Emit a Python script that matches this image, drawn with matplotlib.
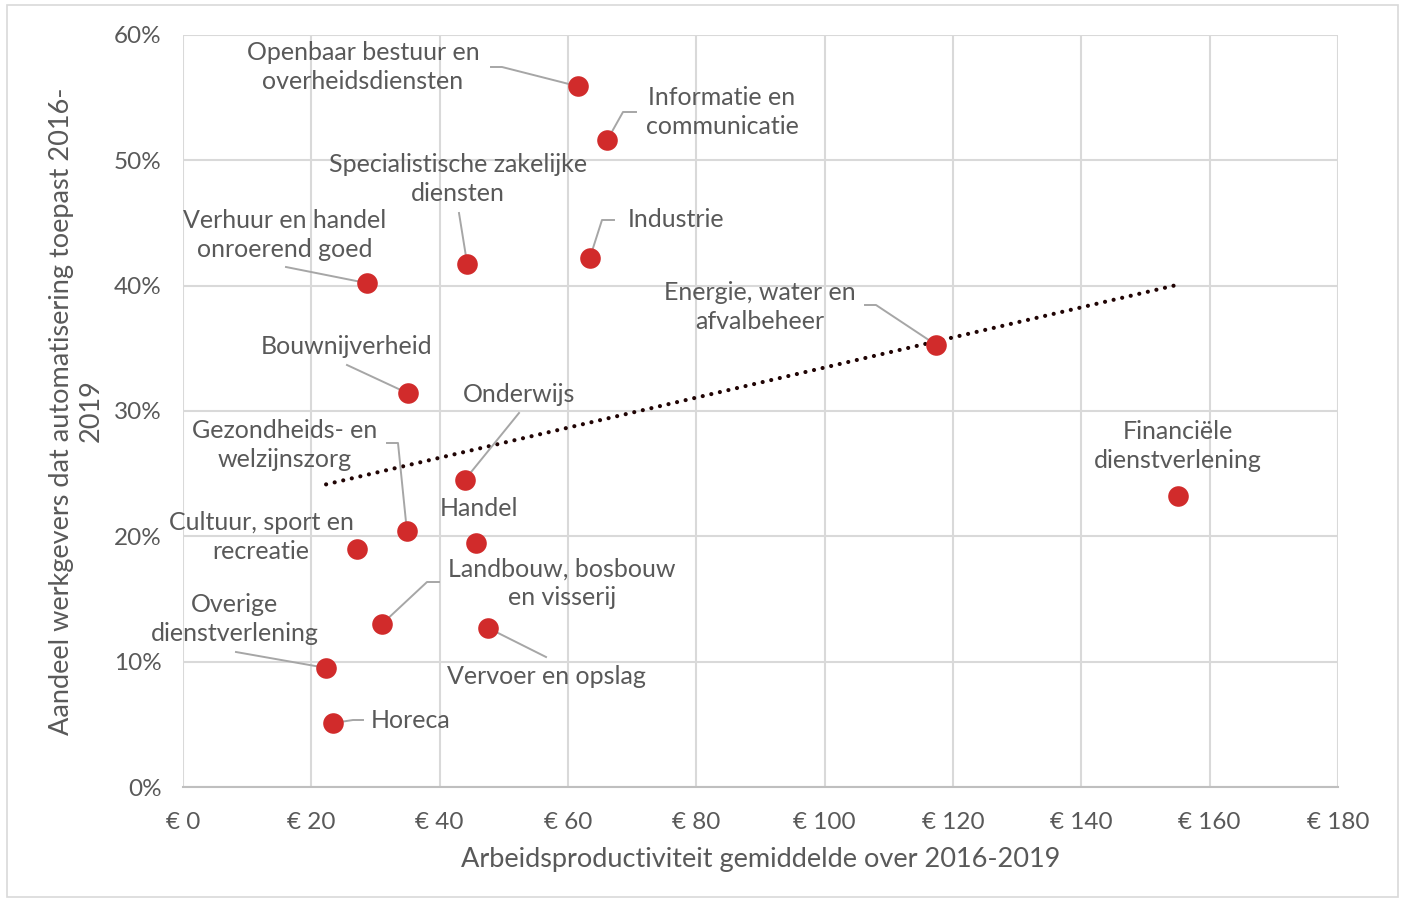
"""
Scatter chart: automatisering vs arbeidsproductiviteit per sector, with a linear trendline.
"""

import numpy as np
import matplotlib
matplotlib.use("Agg")
import matplotlib.pyplot as plt
from matplotlib.ticker import FuncFormatter, MultipleLocator
from matplotlib.patches import Rectangle

# --- data ---
sectors = [
    "Openbaar bestuur en\noverheidsdiensten",
    "Informatie en\ncommunicatie",
    "Industrie",
    "Specialistische zakelijke\ndiensten",
    "Verhuur en handel\nonroerend goed",
    "Energie, water en\nafvalbeheer",
    "Bouwnijverheid",
    "Onderwijs",
    "Financiële\ndienstverlening",
    "Gezondheids- en\nwelzijnszorg",
    "Cultuur, sport en\nrecreatie",
    "Handel",
    "Landbouw, bosbouw\nen visserij",
    "Vervoer en opslag",
    "Overige\ndienstverlening",
    "Horeca",
]
productivity = [61.6, 66.1, 63.4, 44.3, 28.7, 117.3, 35.1, 43.9,
                155.1, 34.9, 27.1, 45.7, 31.0, 47.5, 22.3, 23.4]
automation_pct = [55.9, 51.6, 42.2, 41.7, 40.2, 35.3, 31.4, 24.5,
                  23.2, 20.4, 19.0, 19.5, 13.0, 12.7, 9.5, 5.1]

# --- label placement (pixel coords in the 1402x899 image) ---
# text centre, alignment, leader polyline (label end -> ...), last point goes to the marker
label_px = {
    0: ((363, 67), "center", [(491, 67), (502, 67)]),
    1: ((722, 112), "center", [(636, 112), (623, 112)]),
    2: ((628, 220), "left", [(614, 220), (602, 220)]),
    3: ((458, 179), "center", [(459, 213)]),
    4: ((285, 235), "center", [(286, 267)]),
    5: ((760, 307), "center", [(865, 305), (876, 305)]),
    6: ((347, 346), "center", [(347, 365)]),
    7: ((519, 395), "center", [(519, 413)]),
    8: ((1178, 446), "center", []),
    9: ((285, 445), "center", [(387, 443), (398, 443)]),
    10: ((261, 537), "center", []),
    11: ((479, 508), "center", []),
    12: ((562, 583), "center", [(439, 582), (427, 582)]),
    13: ((546, 677), "center", [(546, 657)]),
    14: ((235, 619), "center", [(236, 652)]),
    15: ((371, 721), "left", [(363, 720), (353, 720)]),
}

TEXT = "#595959"
GRID = "#d9d9d9"
RED = "#d12b2b"

plt.rcParams["font.family"] = ["Lato", "DejaVu Sans"]

W, H = 1402, 899
fig = plt.figure(figsize=(W / 100, H / 100), dpi=100)
L, R, B, T = 183, 1338, 787, 35
ax = fig.add_axes([L / W, (H - B) / H, (R - L) / W, (B - T) / H])

# outer chart border
fig.patches.append(Rectangle((7 / W, 2 / H), (1398 - 7) / W, (897 - 5) / H,
                             transform=fig.transFigure, fill=False,
                             edgecolor=GRID, linewidth=1.2))

ax.set_xlim(0, 180)
ax.set_ylim(0, 60)
ax.xaxis.set_major_locator(MultipleLocator(20))
ax.yaxis.set_major_locator(MultipleLocator(10))
ax.xaxis.set_major_formatter(FuncFormatter(lambda v, _: f"€ {v:.0f}"))
ax.yaxis.set_major_formatter(FuncFormatter(lambda v, _: f"{v:.0f}%"))
ax.grid(True, color=GRID, linewidth=1.5)
ax.set_axisbelow(True)
for s in ("top", "right", "left"):
    ax.spines[s].set_visible(False)
ax.spines["bottom"].set_color("#bfbfbf")
ax.spines["bottom"].set_linewidth(1.5)
ax.tick_params(length=0, labelsize=17.5, labelcolor=TEXT)
ax.tick_params(axis="y", pad=15.5)
ax.tick_params(axis="x", pad=18)

ax.set_xlabel("Arbeidsproductiviteit gemiddelde over 2016-2019",
              fontsize=19.5, color=TEXT, labelpad=10)
ax.set_ylabel("Aandeel werkgevers dat automatisering toepast 2016-\n2019",
              fontsize=19.5, color=TEXT, labelpad=7.5, linespacing=1.2)

x = np.array(productivity)
y = np.array(automation_pct)

# linear trendline across the data range
slope, intercept = np.polyfit(x, y, 1)
xt = np.array([x.min(), x.max()])
ax.plot(xt, slope * xt + intercept, color="#200404", linewidth=3,
        linestyle=(0, (0.01, 2.1)), dash_capstyle="round", zorder=3)

ax.scatter(x, y, s=220, color=RED, zorder=4, linewidths=0)


def px_to_data(px, py):
    return (px - L) / (R - L) * 180, (B - py) / (B - T) * 60


for i, name in enumerate(sectors):
    (tx, ty), ha, leader = label_px[i]
    dx, dy = px_to_data(tx, ty)
    ax.text(dx, dy, name, ha=ha, va="center", fontsize=18, color=TEXT,
            linespacing=1.3, zorder=5)
    if leader:
        pts = [px_to_data(*p) for p in leader] + [(x[i], y[i])]
        lx, ly = zip(*pts)
        ax.plot(lx, ly, color="#a6a6a6", linewidth=1.4, zorder=3.5)

fig.savefig("out.png", dpi=100)
